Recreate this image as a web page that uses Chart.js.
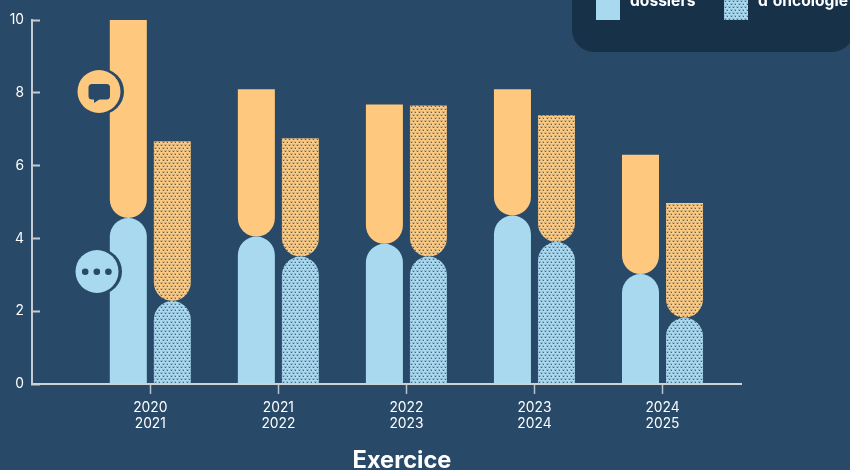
<!DOCTYPE html>
<html lang="fr">
<head>
<meta charset="utf-8">
<title>Exercice</title>
<style>
html, body { margin: 0; padding: 0; background: #284968; overflow: hidden; }
canvas { display: block; }
</style>
<script src="https://cdn.jsdelivr.net/npm/chart.js@4"></script>
</head>
<body>
<canvas id="chart" width="850" height="470"></canvas>
<script>
var categories = [0, 1, 2, 3, 4];
var tickLabels = [['2020', '2021'], ['2021', '2022'], ['2022', '2023'], ['2023', '2024'], ['2024', '2025']];
var blueSolid = [4.56, 4.05, 3.85, 4.63, 3.02];
var orangeSolid = [5.44, 4.05, 3.83, 3.47, 3.28];
var blueDotted = [2.28, 3.5, 3.5, 3.9, 1.82];
var orangeDotted = [4.39, 3.25, 4.15, 3.48, 3.15];
var legendLabels = ['dossiers', "d'oncologie"];

var BG = '#284968';
var PANEL = '#173149';
var BLUE = '#a9d9ef';
var ORANGE = '#fec97f';
var FONT = 'Inter, "Noto Sans", sans-serif';

function dots(base) {
    var c = document.createElement('canvas');
    c.width = 8;
    c.height = 6;
    var g = c.getContext('2d');
    g.fillStyle = base;
    g.fillRect(0, 0, 8, 6);
    g.fillStyle = 'rgba(40,73,104,0.2)';
    [[0, 0], [4, 0], [2, 3], [6, 3]].forEach(function (p) {
        g.fillRect(p[0], p[1], 3, 2);
    });
    g.fillStyle = 'rgba(40,73,104,0.75)';
    [[1, 1], [5, 1], [3, 4], [7, 4]].forEach(function (p) {
        g.fillRect(p[0], p[1], 1, 1);
    });
    return g.createPattern(c, 'repeat');
}

function points(values) {
    return categories.map(function (c, i) { return { x: c, y: values[i] }; });
}

function bars(values, color, stack, top) {
    var r = 18.5;
    return {
        data: points(values),
        stack: stack,
        backgroundColor: color,
        borderWidth: 0,
        borderSkipped: false,
        borderRadius: top
            ? { topLeft: 0, topRight: 0, bottomLeft: r, bottomRight: r }
            : { topLeft: r, topRight: r, bottomLeft: 0, bottomRight: 0 },
        categoryPercentage: 0.6875,
        barPercentage: 0.841
    };
}

var decor = {
    id: 'decor',
    beforeDatasetsDraw: function (chart) {
        var ctx = chart.ctx;
        ctx.save();
        ctx.fillStyle = PANEL;
        ctx.beginPath();
        ctx.roundRect(572, -40, 282, 92, 22);
        ctx.fill();
        ctx.fillStyle = BLUE;
        ctx.fillRect(596, -5, 24, 25);
        ctx.fillStyle = dots(BLUE);
        ctx.fillRect(724, -5, 24, 25);
        ctx.fillStyle = '#ffffff';
        ctx.font = 'bold 15.6px ' + FONT;
        ctx.textAlign = 'left';
        ctx.textBaseline = 'alphabetic';
        ctx.fillText(legendLabels[0], 630, 6);
        ctx.fillText(legendLabels[1], 758, 6);
        ctx.restore();
    },
    afterDraw: function (chart) {
        var ctx = chart.ctx;
        ctx.save();
        // the two badges on the first bar
        ctx.fillStyle = BG;
        ctx.beginPath(); ctx.arc(101, 91.5, 23, 0, Math.PI * 2); ctx.fill();
        ctx.beginPath(); ctx.arc(99, 271.5, 23, 0, Math.PI * 2); ctx.fill();
        ctx.fillStyle = ORANGE;
        ctx.beginPath(); ctx.arc(99, 91.5, 21.5, 0, Math.PI * 2); ctx.fill();
        ctx.fillStyle = BLUE;
        ctx.beginPath(); ctx.arc(97, 271.5, 21.5, 0, Math.PI * 2); ctx.fill();

        ctx.fillStyle = BG;
        ctx.beginPath();
        ctx.roundRect(88.5, 84, 21.5, 15.5, 3.5);
        ctx.fill();
        ctx.beginPath();
        ctx.moveTo(94, 98);
        ctx.lineTo(94, 103);
        ctx.lineTo(100, 99);
        ctx.closePath();
        ctx.fill();
        [85.2, 96.8, 108.4].forEach(function (x) {
            ctx.beginPath(); ctx.arc(x, 271.7, 3.3, 0, Math.PI * 2); ctx.fill();
        });

        ctx.fillStyle = '#ffffff';
        ctx.font = 'bold 23.6px ' + FONT;
        ctx.textAlign = 'center';
        ctx.textBaseline = 'alphabetic';
        ctx.fillText('Exercice', 402, 468);
        ctx.restore();
    }
};

var chart = new Chart(document.getElementById('chart').getContext('2d'), {
    type: 'bar',
    data: {
        datasets: [
            bars(blueSolid, BLUE, 'solid', false),
            bars(orangeSolid, ORANGE, 'solid', true),
            bars(blueDotted, dots(BLUE), 'dotted', false),
            bars(orangeDotted, dots(ORANGE), 'dotted', true)
        ]
    },
    options: {
        responsive: false,
        animation: false,
        layout: { autoPadding: false, padding: { top: 20, right: 109, left: 0, bottom: 0 } },
        plugins: { legend: { display: false }, tooltip: { enabled: false } },
        scales: {
            x: {
                type: 'linear',
                offset: false,
                min: -0.924,
                max: 4.613,
                afterBuildTicks: function (axis) {
                    axis.ticks = categories.map(function (c) { return { value: c }; });
                },
                afterFit: function (axis) { axis.height = 86; },
                grid: { offset: false, drawOnChartArea: false, color: '#b9c2c9', tickLength: 10, tickWidth: 1.5 },
                border: { color: '#d0d3d4', width: 2 },
                ticks: {
                    color: '#ffffff',
                    padding: 6,
                    maxRotation: 0,
                    autoSkip: false,
                    font: { family: FONT, size: 13.8, lineHeight: 1.16 },
                    callback: function (v) { return tickLabels[v]; }
                }
            },
            y: {
                stacked: true,
                min: 0,
                max: 10,
                afterFit: function (axis) {
                    axis.width = 32;
                    // tick padding is only there to clear the inward ticks
                    axis.paddingTop = 0;
                    axis.paddingBottom = 0;
                },
                grid: { drawOnChartArea: false, color: '#c4ccd2', tickLength: -8, tickWidth: 2 },
                border: { color: '#c4ccd2', width: 2 },
                ticks: {
                    color: '#ffffff',
                    stepSize: 2,
                    padding: 16,
                    font: { family: FONT, size: 13.8 }
                }
            }
        }
    },
    plugins: [decor]
});
</script>
</body>
</html>
